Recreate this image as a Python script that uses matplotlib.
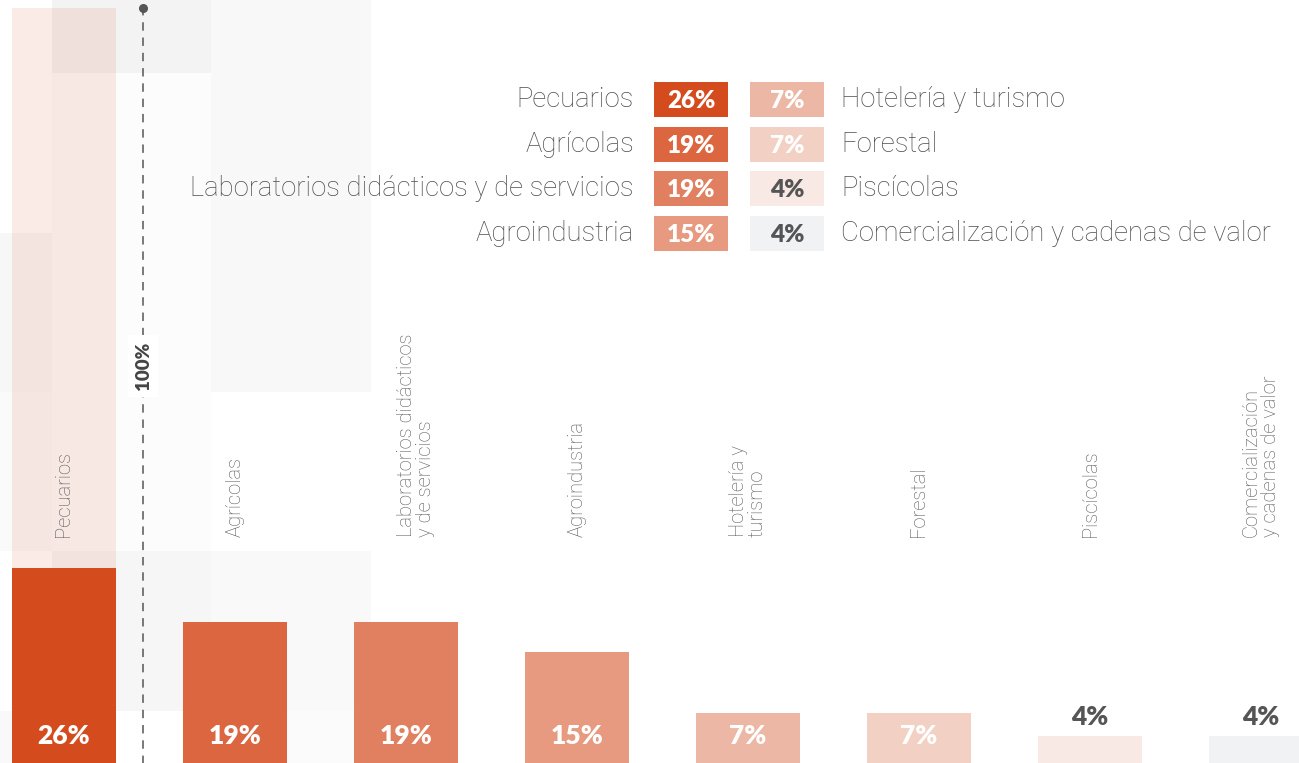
import matplotlib
matplotlib.use("Agg")
import matplotlib.pyplot as plt
from matplotlib.patches import Rectangle

# ---------------- data ----------------
categories = ["Pecuarios", "Agrícolas", "Laboratorios didácticos y de servicios",
              "Agroindustria", "Hotelería y turismo", "Forestal", "Piscícolas",
              "Comercialización y cadenas de valor"]
axis_labels = ["Pecuarios", "Agrícolas", "Laboratorios didácticos\ny de servicios",
               "Agroindustria", "Hotelería y\nturismo", "Forestal", "Piscícolas",
               "Comercialización\ny cadenas de valor"]
values = [26, 19, 19, 15, 7, 7, 4, 4]
reference_value = 100
reference_label = "100%"

# ---------------- style ----------------
bar_colors = ["#d44c1e", "#db6640", "#e08060", "#e79a7f",
              "#edb7a5", "#f3d0c4", "#f9e9e4", "#f1f2f4"]
dark_text = ["#ffffff"] * 6 + ["#555555"] * 2
NUMFONT = "Lato"
FONT = "Roboto"
LABEL_GREY = "#5a5a5a"
LEG_GREY = "#4e4e4e"

W, H = 1299, 763
fig = plt.figure(figsize=(W / 100, H / 100), dpi=100)
fig.patch.set_facecolor("white")

# decorative background cells (pixel coordinates)
bg = fig.add_axes([0, 0, 1, 1], zorder=0)
bg.set_xlim(0, W)
bg.set_ylim(H, 0)
bg.axis("off")
xs = [-107, 52, 211, 371]
ys = [-86, 73, 233, 392, 551, 711, 870]
cell_grey = [
    [None, "#f3f3f3", "#f8f8f8"],
    [None, "#fcfcfc", "#f8f8f8"],
    ["#f7f7f7", "#fcfcfc", "#f8f8f8"],
    ["#fafafa", "#fcfcfc", None],
    [None, "#f6f6f6", "#f9f9f9"],
    ["#f9f9f9", None, "#fbfbfb"],
]
for r in range(len(ys) - 1):
    for c in range(len(xs) - 1):
        col = cell_grey[r][c]
        if col:
            bg.add_patch(Rectangle((xs[c], ys[r]), xs[c + 1] - xs[c], ys[r + 1] - ys[r],
                                   facecolor=col, edgecolor="none"))

# main bar axes
ax = fig.add_axes([0, 0, 1, 1], zorder=1)
ax.patch.set_alpha(0)
pitch = 171.0
x0 = 64.0
ax.set_xlim(-x0 / pitch, (W - x0) / pitch)
scale = 7.6
base = 766.0
ax.set_ylim((base - H) / scale, base / scale)
ax.axis("off")

xpos = list(range(len(values)))
bw = 104 / pitch

# pale reference bar behind the first category
ax.bar([0], [reference_value - 0.3], width=bw, color="#d44c1e", alpha=0.11, zorder=1,
       linewidth=0)
ax.bar(xpos, values, width=bw, color=bar_colors, zorder=2, linewidth=0)

for i, (v, lab) in enumerate(zip(values, axis_labels)):
    if v >= 7:
        ax.text(i, 4.0, f"{v}%", ha="center", va="center", color=dark_text[i],
                fontsize=19, fontweight="heavy", family=NUMFONT, zorder=3)
    else:
        ax.text(i, v + 0.9, f"{v}%", ha="center", va="bottom", color=dark_text[i],
                fontsize=19, fontweight="heavy", family=NUMFONT, zorder=3)
    ax.text(i + (0.06 if i == 2 else 0), 30.1, lab, rotation=90, ha="center", va="bottom",
            multialignment="left", color=LABEL_GREY, fontsize=14.5, family=FONT,
            fontweight="light", linespacing=1.0, zorder=3)

# dashed 100% reference line
xl = (143 - x0) / pitch
ax.plot([xl, xl], [0, reference_value - 0.3], color="#555555", lw=1.1,
        ls=(0, (5.5, 4.5)), zorder=2)
ax.plot([xl], [reference_value - 0.3], marker="o", ms=5.5, color="#555555", zorder=3)
ax.text(xl, (base - 366) / scale, reference_label, rotation=90, ha="center", va="center",
        fontsize=13.5, fontweight="heavy", family=NUMFONT, color="#444444", zorder=4,
        bbox=dict(facecolor="white", edgecolor="none", pad=5))

# legend (pixel coordinates)
lg = fig.add_axes([0, 0, 1, 1], zorder=3)
lg.patch.set_alpha(0)
lg.set_xlim(0, W)
lg.set_ylim(H, 0)
lg.axis("off")
row_y = [99.5, 144.2, 188.9, 233.6]
box_w, box_h = 74, 35
for k, (name, v, col, tc) in enumerate(zip(categories, values, bar_colors, dark_text)):
    row = k % 4
    y = row_y[row]
    if k < 4:
        bx = 654
        lg.text(634, y, name, ha="right", va="center", fontsize=19.8, family=FONT,
                fontweight="light", color=LEG_GREY)
    else:
        bx = 750
        lg.text(841, y, name, ha="left", va="center", fontsize=19.8, family=FONT,
                fontweight="light", color=LEG_GREY)
    lg.add_patch(Rectangle((bx, y - box_h / 2), box_w, box_h, facecolor=col,
                           edgecolor="none"))
    lg.text(bx + box_w / 2, y + 1.5, f"{v}%", ha="center", va="center", color=tc,
            fontsize=17.5, fontweight="heavy", family=NUMFONT)

fig.savefig("out.png", dpi=100, facecolor="white")
